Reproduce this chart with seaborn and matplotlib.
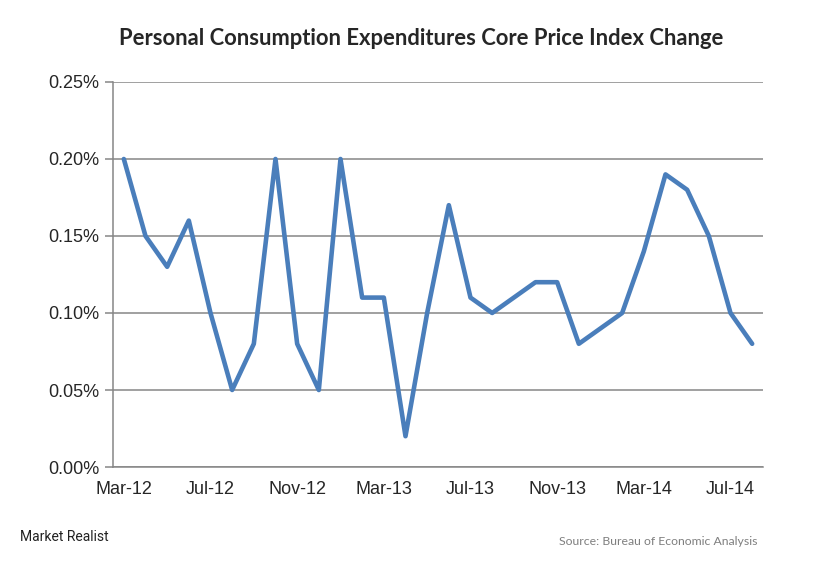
import matplotlib
matplotlib.use("Agg")
import matplotlib.pyplot as plt
import numpy as np
import pandas as pd
import seaborn as sns

# Monthly PCE core price index change, Mar-12 .. Aug-14 (percent)
months = [
    "Mar-12", "Apr-12", "May-12", "Jun-12", "Jul-12", "Aug-12", "Sep-12", "Oct-12",
    "Nov-12", "Dec-12", "Jan-13", "Feb-13", "Mar-13", "Apr-13", "May-13", "Jun-13",
    "Jul-13", "Aug-13", "Sep-13", "Oct-13", "Nov-13", "Dec-13", "Jan-14", "Feb-14",
    "Mar-14", "Apr-14", "May-14", "Jun-14", "Jul-14", "Aug-14",
]
pce_change = [
    0.20, 0.15, 0.13, 0.16, 0.10, 0.05, 0.08, 0.20,
    0.08, 0.05, 0.20, 0.11, 0.11, 0.02, 0.10, 0.17,
    0.11, 0.10, 0.11, 0.12, 0.12, 0.08, 0.09, 0.10,
    0.14, 0.19, 0.18, 0.15, 0.10, 0.08,
]
y_ticks = [0.00, 0.05, 0.10, 0.15, 0.20, 0.25]
label_every = 4

sns.set_style("white")
plt.rcParams["font.family"] = ["Liberation Sans", "DejaVu Sans"]

df = pd.DataFrame({"pos": np.arange(len(months)), "value": pce_change})

fig = plt.figure(figsize=(8.17, 5.63), dpi=100)
ax = fig.add_axes([0.1383, 0.1705, 0.7956, 0.6839])

sns.lineplot(data=df, x="pos", y="value", ax=ax, color="#4A7EBB", linewidth=3.3,
             solid_joinstyle="round", solid_capstyle="round")

ax.set_xlim(-0.5, len(months) - 0.5)
ax.set_ylim(y_ticks[0], y_ticks[-1])
ax.set_yticks(y_ticks)
ax.set_yticklabels([f"{v:.2f}%" for v in y_ticks], fontsize=13)
ticks = df["pos"][::label_every]
ax.set_xticks(ticks)
ax.set_xticklabels(months[::label_every], fontsize=13)
ax.set_xlabel("")
ax.set_ylabel("")

ax.grid(axis="y", color="#868686", linewidth=1.1)
ax.grid(axis="x", visible=False)
ax.set_axisbelow(True)
for side in ["top", "right"]:
    ax.spines[side].set_visible(False)
ax.spines["left"].set_color("#868686")
ax.spines["bottom"].set_color("#868686")
ax.spines["left"].set_linewidth(1.1)
ax.spines["bottom"].set_linewidth(1.1)
ax.tick_params(axis="y", length=6, color="#868686", width=1.1, pad=4, left=True)
ax.tick_params(axis="x", length=0, pad=10)

fig.text(0.515, 0.932, "Personal Consumption Expenditures Core Price Index Change",
         ha="center", va="center", fontsize=15.8, fontweight="bold", family=["Lato", "DejaVu Sans"])
fig.text(0.025, 0.046, "Market Realist", ha="left", va="center", fontsize=10,
         color="#222222", family=["Roboto", "DejaVu Sans"])
fig.text(0.927, 0.039, "Source: Bureau of Economic Analysis", ha="right", va="center",
         fontsize=8.8, color="#7F7F7F", family=["Lato", "DejaVu Sans"])

fig.savefig("out.png", dpi=100)
plt.close(fig)
